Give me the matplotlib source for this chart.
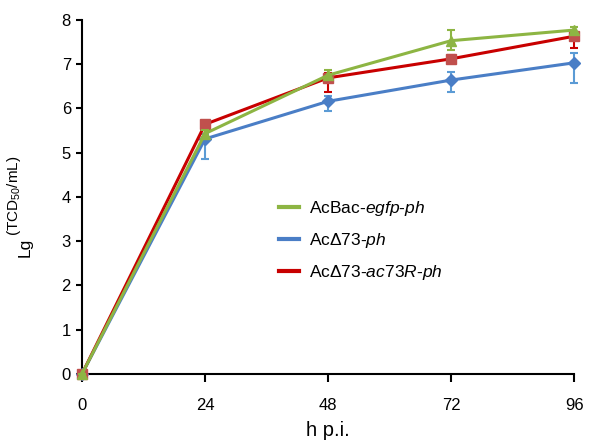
import matplotlib.pyplot as plt
from matplotlib.lines import Line2D

plt.rcParams['font.family'] = ['Liberation Sans', 'DejaVu Sans']
plt.rcParams['mathtext.fontset'] = 'custom'
plt.rcParams['mathtext.rm'] = 'Liberation Sans'
plt.rcParams['mathtext.it'] = 'Liberation Sans:italic'

hours = [0, 24, 48, 72, 96]

# AcBac-egfp-ph
wt = [0, 5.43, 6.75, 7.53, 7.77]
wt_lo = [0, 0.08, 0.08, 0.22, 0.06]
wt_hi = [0, 0.08, 0.12, 0.24, 0.06]

# AcD73-ph
ko = [0, 5.31, 6.16, 6.64, 7.03]
ko_lo = [0, 0.45, 0.22, 0.28, 0.45]
ko_hi = [0, 0.12, 0.12, 0.18, 0.22]

# AcD73-ac73R-ph
rep = [0, 5.64, 6.69, 7.12, 7.63]
rep_lo = [0, 0.05, 0.32, 0.08, 0.26]
rep_hi = [0, 0.05, 0.12, 0.08, 0.08]

labels = [r'AcBac-$\it{egfp}$-$\it{ph}$',
          r'Ac$\Delta\it{73}$-$\it{ph}$',
          r'Ac$\Delta\it{73}$-$\it{ac73R}$-$\it{ph}$']

green = '#8db543'
blue = '#4a7ec6'
blue_err = '#5b9bd5'
red = '#c80000'
red_mk = '#c0504d'

fig = plt.figure(figsize=(5.9, 4.42), dpi=100)
ax = fig.add_axes([0.139, 0.154, 0.834, 0.801])

ax.errorbar(hours, ko, yerr=[ko_lo, ko_hi], color=blue, ecolor=blue_err,
            lw=2.2, elinewidth=1.5, capsize=3, capthick=1.5,
            marker='D', ms=6, mfc=blue, mec=blue, clip_on=False, zorder=3)
ax.errorbar(hours, rep, yerr=[rep_lo, rep_hi], color=red, ecolor=red,
            lw=2.2, elinewidth=1.5, capsize=3, capthick=1.5,
            marker='s', ms=7.5, mfc=red_mk, mec=red_mk, clip_on=False, zorder=4)
ax.errorbar(hours, wt, yerr=[wt_lo, wt_hi], color=green, ecolor=green,
            lw=2.2, elinewidth=1.5, capsize=3, capthick=1.5,
            marker='^', ms=7, mfc=green, mec=green, clip_on=False, zorder=5)

ax.set_xlim(0, 96)
ax.set_ylim(0, 8)
ax.set_xticks(hours)
ax.set_yticks(range(0, 9))

for s in ['top', 'right']:
    ax.spines[s].set_visible(False)
for s in ['left', 'bottom']:
    ax.spines[s].set_linewidth(1.5)
ax.tick_params(width=1.5, labelsize=12)
ax.tick_params(axis='x', length=6, pad=11)
ax.tick_params(axis='y', length=4, pad=4)

ax.set_xlabel('h p.i.', fontsize=14.5, labelpad=6)

# y label: "Lg" with a large superscript unit
fig.text(25 / 590, 1 - 257 / 442, 'Lg', rotation=90, fontsize=12.5,
         ha='center', va='bottom')
fig.text(14 / 590, 1 - 236 / 442, r'(TCD$_{50}$/mL)', rotation=90,
         fontsize=11, ha='center', va='bottom')

handles = [Line2D([], [], color=green, lw=3),
           Line2D([], [], color=blue, lw=3),
           Line2D([], [], color=red, lw=3)]
ax.legend(handles, labels, loc='upper left', bbox_to_anchor=(0.368, 0.538),
          frameon=False, fontsize=12.5, handlelength=1.15, handletextpad=0.6,
          labelspacing=0.75)

fig.savefig('out.png', dpi=100)
